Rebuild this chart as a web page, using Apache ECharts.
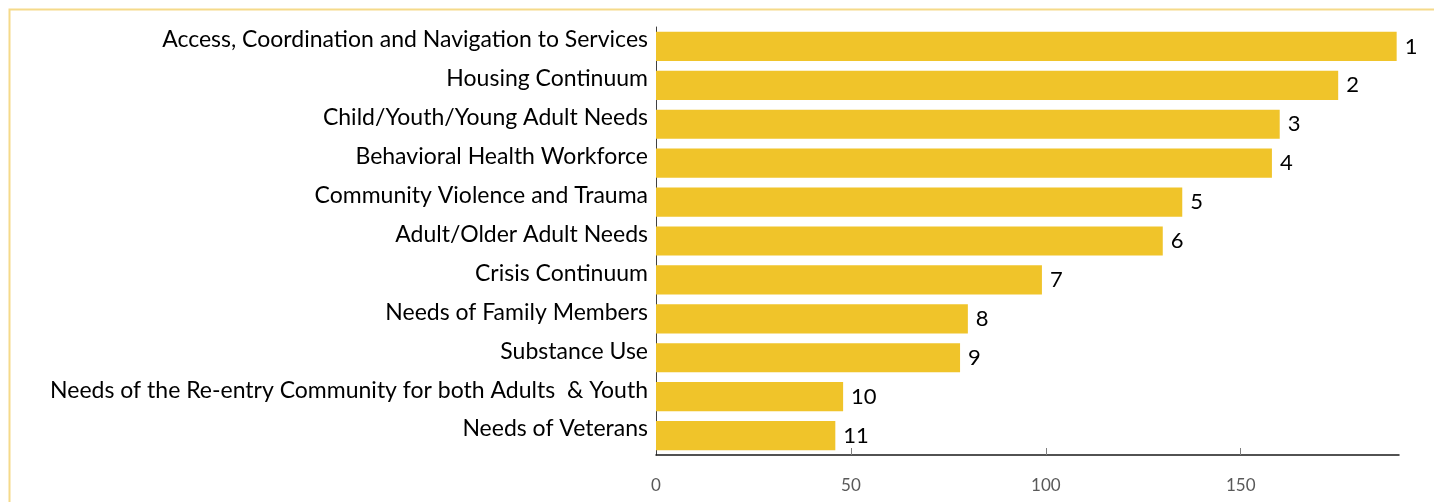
<!DOCTYPE html>
<html>
<head>
<meta charset="utf-8">
<script src="https://cdn.jsdelivr.net/npm/echarts@6/dist/echarts.min.js"></script>
<style>
  html, body { margin: 0; padding: 0; background: #ffffff; }
  #chart { width: 1434px; height: 502px; }
</style>
</head>
<body>
<div id="chart"></div>
<script>
// Priority areas, listed from top to bottom
const categories = [
  'Access, Coordination and Navigation to Services',
  'Housing Continuum',
  'Child/Youth/Young Adult Needs',
  'Behavioral Health Workforce',
  'Community Violence and Trauma',
  'Adult/Older Adult Needs',
  'Crisis Continuum',
  'Needs of Family Members',
  'Substance Use',
  'Needs of the Re-entry Community for both Adults  & Youth',
  'Needs of Veterans'
];
// Score of each area
const scores = [190, 175, 160, 158, 135, 130, 99, 80, 78, 48, 46];
// Rank shown beside each bar
const ranks = ['1', '2', '3', '4', '5', '6', '7', '8', '9', '10', '11'];
// Value-axis ticks
const xTicks = [0, 50, 100, 150];

const chart = echarts.init(document.getElementById('chart'), null, { renderer: 'canvas' });

const font = 'Lato, "Open Sans", sans-serif';

chart.setOption({
  animation: false,
  backgroundColor: '#ffffff',
  textStyle: { fontFamily: font },
  graphic: [{
    type: 'rect',
    silent: true,
    shape: { x: 9.5, y: 9.5, width: 1500, height: 600 },
    style: { fill: 'none', stroke: '#F5DA8A', lineWidth: 2 }
  }],
  grid: { left: 656, right: 35, top: 27, bottom: 47, containLabel: false },
  xAxis: {
    type: 'value',
    min: 0,
    max: 190.6,
    interval: 50,
    splitLine: { show: false },
    axisLine: { show: true, lineStyle: { color: '#1a1a1a', width: 1.5 } },
    axisTick: {
      show: true, inside: true, length: 7,
      customValues: xTicks.filter(v => v > 0),
      lineStyle: { color: '#7f7f7f', width: 1 }
    },
    axisLabel: {
      customValues: xTicks,
      margin: 22,
      color: '#595959',
      fontSize: 17,
      fontFamily: font
    }
  },
  yAxis: {
    type: 'category',
    data: categories,
    inverse: true,
    axisLine: { show: true, lineStyle: { color: '#404040', width: 1 } },
    axisTick: { show: false },
    axisLabel: {
      margin: 8,
      color: '#000000',
      fontSize: 23,
      lineHeight: 13,
      verticalAlign: 'bottom',
      fontFamily: font
    }
  },
  series: [{
    type: 'bar',
    data: scores,
    barCategoryGap: '25%',
    itemStyle: { color: '#F0C42A' },
    label: {
      show: true,
      position: 'right',
      distance: 8,
      color: '#000000',
      fontSize: 22,
      fontFamily: font,
      formatter: p => ranks[p.dataIndex]
    }
  }]
});
</script>
</body>
</html>
